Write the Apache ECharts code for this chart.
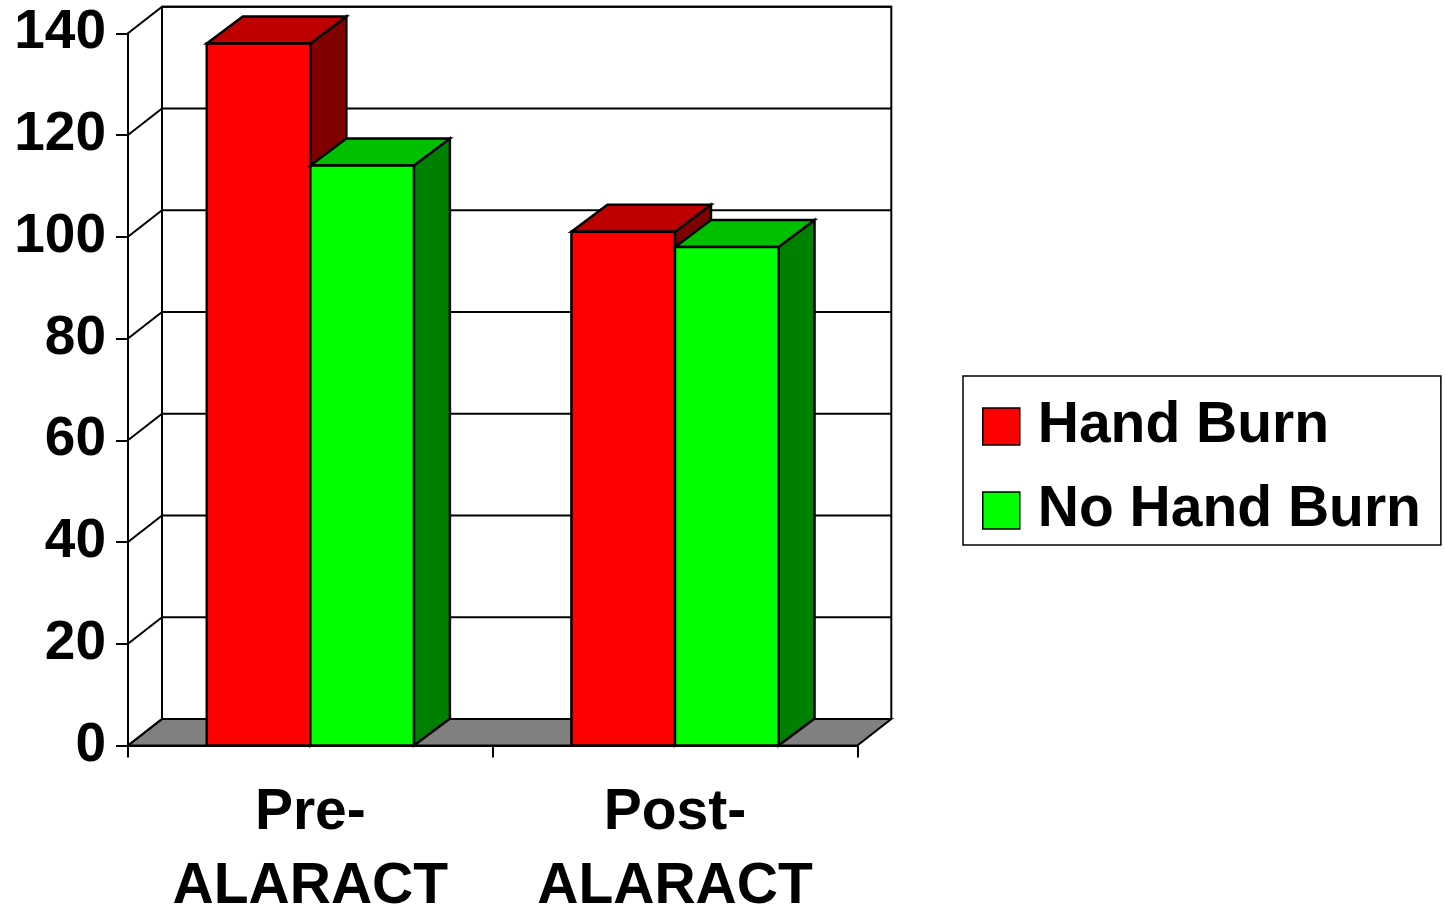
<!DOCTYPE html>
<html>
<head>
<meta charset="utf-8">
<title>Hand Burn: Pre- vs Post-ALARACT</title>
<script src="https://cdn.jsdelivr.net/npm/echarts@6/dist/echarts.min.js"></script>
<style>
  html, body { margin: 0; padding: 0; background: #fff; overflow: hidden; }
  #chart { position: fixed; left: 0; top: 0; width: 100vw; height: 100vh; }
</style>
</head>
<body>
<div id="chart"></div>
<script>
// Chart data
const categories = ['Pre-\nALARACT', 'Post-\nALARACT'];
const handBurn = [138, 101];
const noHandBurn = [114, 98];
const yTicks = [0, 20, 40, 60, 80, 100, 120, 140];

// Pseudo-3D depth offsets (pixels)
const WALL_DX = 34, WALL_DY = -26.5;
const BAR_DX = 36, BAR_DY = -27;
const BAR_FRACTION = 0.284;   // width of one bar as a share of the category band
const FONT = '"Liberation Sans", Arial, sans-serif';

const chart = echarts.init(document.getElementById('chart'), null, { renderer: 'canvas' });

// Back wall, side wall lines and floor of the 3D box
function renderFrame(params, api) {
  const cs = params.coordSys;
  const xL = cs.x, xR = cs.x + cs.width;
  const y0 = api.coord([0, yTicks[0]])[1];
  const yTop = api.coord([0, yTicks[yTicks.length - 1]])[1];
  const line = { stroke: '#000', lineWidth: 2, fill: null };
  const children = [];
  children.push({
    type: 'polygon', z2: 0,
    shape: { points: [[xL, y0], [xL + WALL_DX, y0 + WALL_DY], [xR + WALL_DX, y0 + WALL_DY], [xR, y0]] },
    style: { fill: '#808080', stroke: '#000', lineWidth: 2 }
  });
  children.push({
    type: 'polyline', z2: 1,
    shape: { points: [[xL + WALL_DX, y0 + WALL_DY], [xL + WALL_DX, yTop + WALL_DY], [xR + WALL_DX, yTop + WALL_DY], [xR + WALL_DX, y0 + WALL_DY]] },
    style: line
  });
  yTicks.forEach(function (v) {
    const y = api.coord([0, v])[1];
    children.push({
      type: 'line', z2: 1,
      shape: { x1: xL, y1: y, x2: xL + WALL_DX, y2: y + WALL_DY },
      style: line
    });
    if (v !== yTicks[0]) {
      children.push({
        type: 'line', z2: 1,
        shape: { x1: xL + WALL_DX, y1: y + WALL_DY, x2: xR + WALL_DX, y2: y + WALL_DY },
        style: line
      });
    }
  });
  return { type: 'group', children: children };
}

// One 3D bar: front face, top face and right side face
function makeBarRenderer(slot, front, topColor, sideColor) {
  return function (params, api) {
    const idx = api.value(0), val = api.value(1);
    const top = api.coord([idx, val]);
    const base = api.coord([idx, 0]);
    const w = api.size([1, 0])[0] * BAR_FRACTION;
    const x0 = top[0] - w + slot * w, x1 = x0 + w;
    const yT = top[1], yB = base[1];
    const edge = { stroke: '#000', lineWidth: 2.5, lineJoin: 'miter' };
    return {
      type: 'group',
      children: [
        { type: 'polygon', shape: { points: [[x1, yT], [x1 + BAR_DX, yT + BAR_DY], [x1 + BAR_DX, yB + BAR_DY], [x1, yB]] },
          style: Object.assign({ fill: sideColor }, edge) },
        { type: 'polygon', shape: { points: [[x0, yT], [x0 + BAR_DX, yT + BAR_DY], [x1 + BAR_DX, yT + BAR_DY], [x1, yT]] },
          style: Object.assign({ fill: topColor }, edge) },
        { type: 'polygon', shape: { points: [[x0, yT], [x1, yT], [x1, yB], [x0, yB]] },
          style: Object.assign({ fill: front }, edge) }
      ]
    };
  };
}

const option = {
  backgroundColor: '#fff',
  animation: false,
  grid: { left: 128, width: 729.3, top: 33.3, height: 712.2, containLabel: false, outerBoundsMode: 'none' },
  legend: {
    data: ['Hand Burn', 'No Hand Burn'],
    orient: 'vertical',
    left: 963, top: 376,
    padding: [22, 20, 6, 19],
    itemGap: 27,
    itemWidth: 37, itemHeight: 37,
    icon: 'rect',
    borderColor: '#000', borderWidth: 1.5,
    backgroundColor: '#fff',
    selectedMode: false,
    itemStyle: { borderColor: '#000', borderWidth: 1.5 },
    textStyle: { fontFamily: FONT, fontSize: 57, fontWeight: 'bold', color: '#000', padding: [0, 0, 0, 13] }
  },
  xAxis: {
    type: 'category',
    data: categories,
    boundaryGap: true,
    axisLine: { lineStyle: { color: '#000', width: 2 } },
    axisTick: { show: true, length: 12, inside: false, alignWithLabel: false, lineStyle: { color: '#000', width: 2 } },
    axisLabel: { fontFamily: FONT, fontSize: 57, fontWeight: 'bold', color: '#000', lineHeight: 74, margin: 31 },
    splitLine: { show: false }
  },
  yAxis: {
    type: 'value',
    min: 0, max: 140, interval: 20,
    axisLine: { show: true, lineStyle: { color: '#000', width: 2 } },
    axisTick: { show: true, length: 12, inside: false, lineStyle: { color: '#000', width: 2 } },
    axisLabel: { fontFamily: FONT, fontSize: 55, fontWeight: 'bold', color: '#000', margin: 22 },
    splitLine: { show: false }
  },
  series: [
    {
      name: 'frame', type: 'custom', z: 1, silent: true,
      renderItem: renderFrame,
      data: [[0, 0]],
      encode: { x: 0, y: 1 }
    },
    {
      name: 'Hand Burn', type: 'custom', z: 3,
      itemStyle: { color: '#FF0000', borderColor: '#000', borderWidth: 1.5 },
      renderItem: makeBarRenderer(0, '#FF0000', '#BF0000', '#800000'),
      data: handBurn.map(function (v, i) { return [i, v]; }),
      encode: { x: 0, y: 1 }
    },
    {
      name: 'No Hand Burn', type: 'custom', z: 3,
      itemStyle: { color: '#00FF00', borderColor: '#000', borderWidth: 1.5 },
      renderItem: makeBarRenderer(1, '#00FF00', '#00BF00', '#008000'),
      data: noHandBurn.map(function (v, i) { return [i, v]; }),
      encode: { x: 0, y: 1 }
    }
  ]
};

chart.setOption(option);
window.addEventListener('resize', function () { chart.resize(); });
</script>
</body>
</html>
